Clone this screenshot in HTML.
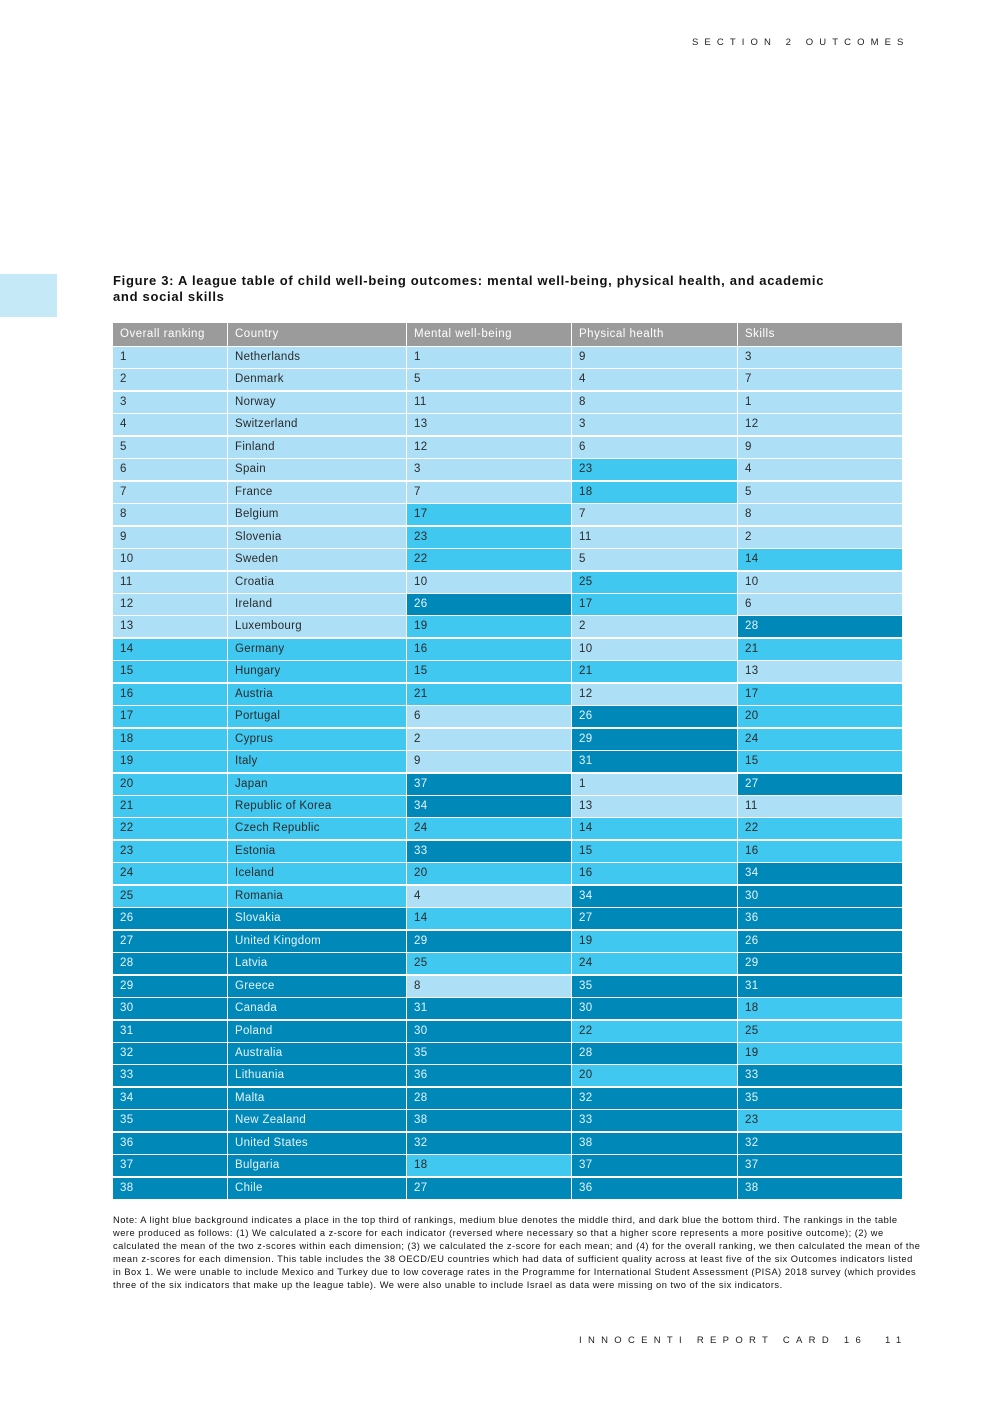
<!DOCTYPE html>
<html><head><meta charset="utf-8">
<style>
body{margin:0;width:992px;height:1403px;position:relative;background:#fff;font-family:"Liberation Sans",sans-serif;color:#222;overflow:hidden}
.abs{position:absolute}
.cell{position:absolute;box-sizing:border-box;padding-left:7px;font-size:11.5px;line-height:22px;height:22px;letter-spacing:0.3px}
.lt{background:#ade0f7;color:#2a2a2a}.md{background:#40c8f1;color:#2a2a2a}.dk{background:#0088b9;color:#e6f4fa}
.hd{background:#9b9b9b;color:#fff;height:23px;line-height:23px;letter-spacing:0.5px}
</style></head><body>
<div class="abs" style="left:692px;top:37px;font-size:9.5px;letter-spacing:6.1px;color:#222;white-space:nowrap">SECTION 2 OUTCOMES</div>
<div class="abs" style="left:0;top:274px;width:57px;height:43px;background:#c6e9f8"></div>
<div class="abs" style="left:113px;top:273px;width:720px;font-size:13px;font-weight:bold;line-height:16px;letter-spacing:0.7px;color:#111">Figure 3: A league table of child well-being outcomes: mental well-being, physical health, and academic and social skills</div>
<div id="tbl"></div>
<div class="abs" style="left:113px;top:1214px;width:808px;font-size:9.3px;line-height:13px;letter-spacing:0.5px;color:#111">Note: A light blue background indicates a place in the top third of rankings, medium blue denotes the middle third, and dark blue the bottom third. The rankings in the table were produced as follows: (1) We calculated a z-score for each indicator (reversed where necessary so that a higher score represents a more positive outcome); (2) we calculated the mean of the two z-scores within each dimension; (3) we calculated the z-score for each mean; and (4) for the overall ranking, we then calculated the mean of the mean z-scores for each dimension. This table includes the 38 OECD/EU countries which had data of sufficient quality across at least five of the six Outcomes indicators listed in Box 1. We were unable to include Mexico and Turkey due to low coverage rates in the Programme for International Student Assessment (PISA) 2018 survey (which provides three of the six indicators that make up the league table). We were also unable to include Israel as data were missing on two of the six indicators.</div>
<div class="abs" style="left:579px;top:1335px;font-size:9.5px;letter-spacing:6.3px;color:#222;white-space:nowrap">INNOCENTI REPORT CARD 16&nbsp;&nbsp;11</div>
<script>
const headers=["Overall ranking","Country","Mental well-being","Physical health","Skills"];
const countries=["Netherlands","Denmark","Norway","Switzerland","Finland","Spain","France","Belgium","Slovenia","Sweden","Croatia","Ireland","Luxembourg","Germany","Hungary","Austria","Portugal","Cyprus","Italy","Japan","Republic of Korea","Czech Republic","Estonia","Iceland","Romania","Slovakia","United Kingdom","Latvia","Greece","Canada","Poland","Australia","Lithuania","Malta","New Zealand","United States","Bulgaria","Chile"];
const mental=[1,5,11,13,12,3,7,17,23,22,10,26,19,16,15,21,6,2,9,37,34,24,33,20,4,14,29,25,8,31,30,35,36,28,38,32,18,27];
const physical=[9,4,8,3,6,23,18,7,11,5,25,17,2,10,21,12,26,29,31,1,13,14,15,16,34,27,19,24,35,30,22,28,20,32,33,38,37,36];
const skills=[3,7,1,12,9,4,5,8,2,14,10,6,28,21,13,17,20,24,15,27,11,22,16,34,30,36,26,29,31,18,25,19,33,35,23,32,37,38];
const colX=[113,227,406,571,737,902];
const top0=323,hdH=23,rowH=22.45;
function cls(v){return v<=13?'lt':(v<=25?'md':'dk');}
const tbl=document.getElementById('tbl');
function mk(x,y,w,h,c,t){const d=document.createElement('div');d.className='cell '+c;d.style.left=x+'px';d.style.top=y+'px';d.style.width=w+'px';d.style.height=h+'px';d.textContent=t;tbl.appendChild(d);return d;}
headers.forEach((h,i)=>{
  const d=mk(colX[i]+(i?1:0),top0,colX[i+1]-colX[i]-(i?1:0),hdH,'hd',h);
  
  
});
countries.forEach((c,r)=>{
  const y=top0+hdH+1+r*rowH;
  const h=rowH-1;
  const vals=[r+1,c,mental[r],physical[r],skills[r]];
  const cl=[cls(r+1),cls(r+1),cls(mental[r]),cls(physical[r]),cls(skills[r])];
  vals.forEach((v,i)=>{
    const d=mk(colX[i]+(i?1:0),Math.round(y),colX[i+1]-colX[i]-(i?1:0),Math.round(h),cl[i],v);
    d.style.lineHeight=Math.round(h)+'px';
    
    
  });
});
</script>
</body></html>
